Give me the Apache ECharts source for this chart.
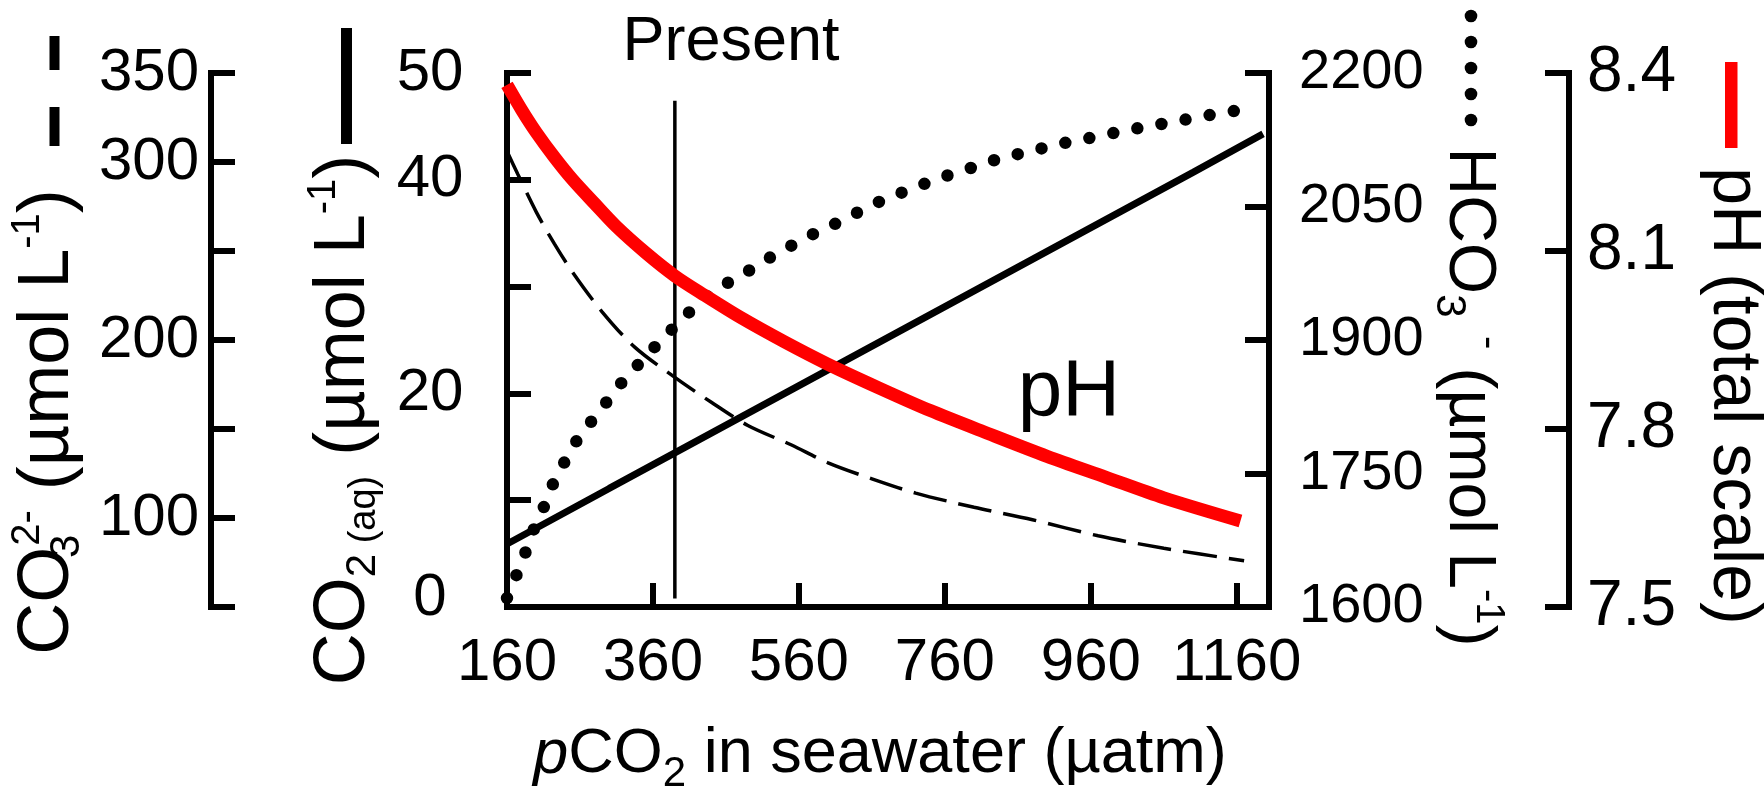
<!DOCTYPE html>
<html>
<head>
<meta charset="utf-8">
<script src="https://cdn.jsdelivr.net/npm/echarts@6/dist/echarts.min.js"></script>
<style>
  html, body { margin: 0; padding: 0; background: #fff; }
  #chart { width: 1764px; height: 789px; }
</style>
</head>
<body>
<div id="chart"></div>
<script>
// ---- Axis ticks and labels ----
const pco2Ticks = [160, 360, 560, 760, 960, 1160];
const co2aqTicks = [0, 10, 20, 30, 40, 50];
const co2aqLabels = [0, 20, 40, 50];
const co3Ticks = [50, 100, 150, 200, 250, 300, 350];
const co3Labels = [100, 200, 300, 350];
const hco3Ticks = [1600, 1750, 1900, 2050, 2200];
const phTicks = [7.5, 7.8, 8.1, 8.4];

// ---- Present-day pCO2 marker (x value, CO2(aq) span) ----
const presentPco2 = 390;
const presentSpan = [0.8, 47.4];

// ---- Carbonate system vs. pCO2 in seawater (µatm) ----
// Dissolved CO2 (µmol L-1)
const co2aq = [[160, 5.9], [300, 11.1], [500, 18.5], [700, 25.9], [900, 33.3], [1100, 40.7], [1196, 44.3]];
// Carbonate ion (µmol L-1)
const co3 = [[160, 306], [175, 293], [200, 272], [225, 254], [250, 238], [290, 216], [335, 196], [390, 179],
  [440, 165], [490, 152], [550, 141], [600, 131], [660, 122], [720, 114], [800, 106], [880, 99],
  [970, 90], [1060, 83], [1170, 76]];
// Bicarbonate (µmol L-1)
const hco3 = [[160, 1610], [174, 1638], [187, 1665], [199, 1692], [213, 1717], [225, 1742], [241, 1766],
  [258, 1790], [279, 1812], [300, 1834], [321, 1856], [344, 1876], [368, 1897], [391, 1916], [416, 1936],
  [442, 1953], [470, 1968], [500, 1982], [529, 1997], [559, 2010], [589, 2023], [619, 2034], [649, 2047],
  [680, 2059], [712, 2069], [743, 2079], [775, 2088], [806, 2096], [839, 2105], [872, 2111], [906, 2118],
  [939, 2124], [972, 2129], [1005, 2135], [1039, 2140], [1072, 2145], [1105, 2150], [1138, 2155], [1172, 2159]];
// pH (total scale)
const ph = [[160, 8.380], [180, 8.338], [200, 8.300], [225, 8.258], [250, 8.220], [280, 8.180], [310, 8.141],
  [350, 8.097], [390, 8.058], [430, 8.026], [480, 7.988], [540, 7.947], [600, 7.909], [670, 7.869],
  [740, 7.831], [820, 7.792], [900, 7.754], [980, 7.719], [1060, 7.684], [1165, 7.645]];

const FONT = "'Liberation Sans', Arial, Helvetica, sans-serif";
const BLACK = '#000';
const RED = '#ff0000';

function tickStyle(values) {
  return { show: true, inside: true, length: 24, customValues: values, lineStyle: { color: BLACK, width: 6 } };
}

function yAxisBase(opts) {
  return Object.assign({
    type: 'value',
    splitLine: { show: false },
    axisLine: { show: true, onZero: false, lineStyle: { color: BLACK, width: 6, cap: 'square' } }
  }, opts);
}

function richStyles(main) {
  return {
    sub: { fontSize: 42, fontFamily: FONT, fill: BLACK, lineHeight: 30, verticalAlign: 'bottom' },
    sub0: { fontSize: 42, fontFamily: FONT, fill: BLACK, lineHeight: 30, verticalAlign: 'bottom', width: 1 },
    ssub: { fontSize: 38, fontFamily: FONT, fill: BLACK, lineHeight: 26, verticalAlign: 'bottom' },
    sup: { fontSize: 40, fontFamily: FONT, fill: BLACK, lineHeight: 50, verticalAlign: 'top' },
    it: { fontSize: main, fontFamily: FONT, fill: BLACK, fontStyle: 'italic' }
  };
}

function title(text, x, y, rot, size) {
  return {
    type: 'text', x: x, y: y, rotation: rot,
    style: {
      text: text, fill: BLACK, fontFamily: FONT, fontSize: size, lineHeight: 80,
      align: 'center', verticalAlign: 'middle', rich: richStyles(size)
    }
  };
}

const chart = echarts.init(document.getElementById('chart'), null, { renderer: 'canvas' });

chart.setOption({
  backgroundColor: '#fff',
  animation: false,
  grid: { left: 507, top: 73, width: 759, height: 534, containLabel: false },
  xAxis: {
    type: 'value', min: 160, max: 1200, position: 'bottom',
    splitLine: { show: false },
    axisLine: { onZero: false, lineStyle: { color: BLACK, width: 6 } },
    axisTick: tickStyle(pco2Ticks),
    axisLabel: { customValues: pco2Ticks, margin: 26, color: BLACK, fontFamily: FONT, fontSize: 60,
      formatter: v => String(v) }
  },
  yAxis: [
    yAxisBase({
      position: 'left', offset: 0, min: 0, max: 50,
      axisTick: tickStyle(co2aqTicks),
      axisLabel: { customValues: co2aqLabels, margin: 77, align: 'center', color: BLACK, fontFamily: FONT, fontSize: 60,
        formatter: v => (v === 0 ? '{z|0}' : String(v)),
        rich: { z: { fontSize: 60, fontFamily: FONT, color: BLACK, padding: [0, 0, 18, 0] } } }
    }),
    yAxisBase({
      position: 'left', offset: 296, min: 50, max: 350,
      axisTick: tickStyle(co3Ticks),
      axisLabel: { customValues: co3Labels, margin: 12, color: BLACK, fontFamily: FONT, fontSize: 60,
        formatter: v => String(v) }
    }),
    yAxisBase({
      position: 'right', offset: 3, min: 1600, max: 2200,
      axisTick: tickStyle(hco3Ticks),
      axisLabel: { customValues: hco3Ticks, margin: 30, color: BLACK, fontFamily: FONT, fontSize: 56,
        formatter: v => String(v) }
    }),
    yAxisBase({
      position: 'right', offset: 303, min: 7.5, max: 8.4,
      axisTick: tickStyle(phTicks),
      axisLabel: { customValues: phTicks, margin: 18, color: BLACK, fontFamily: FONT, fontSize: 64,
        formatter: v => v.toFixed(1) }
    })
  ],
  series: [
    {
      name: 'Present', type: 'line', yAxisIndex: 0, symbol: 'none', silent: true,
      data: [[presentPco2, presentSpan[0]], [presentPco2, presentSpan[1]]],
      lineStyle: { color: BLACK, width: 3.5 }
    },
    {
      name: 'CO2(aq)', type: 'line', yAxisIndex: 0, symbol: 'none', data: co2aq,
      lineStyle: { color: BLACK, width: 7, cap: 'butt' }
    },
    {
      name: 'CO3', type: 'line', yAxisIndex: 1, symbol: 'none', data: co3, smooth: 0.3,
      lineStyle: { color: BLACK, width: 3.5, type: [34, 12] }
    },
    {
      name: 'HCO3', type: 'line', yAxisIndex: 2, symbol: 'none', data: hco3, smooth: 0.3,
      lineStyle: { color: BLACK, width: 12.5, type: [0, 24.5], cap: 'round' }
    },
    {
      name: 'pH', type: 'line', yAxisIndex: 3, symbol: 'none', data: ph, smooth: 0.3,
      lineStyle: { color: RED, width: 13, cap: 'butt' }
    }
  ],
  graphic: [
    // axis titles
    title('CO{sub0|3}{sup|2-} (µmol L{sup|-1})', 48, 422, Math.PI / 2, 72),
    title('CO{sub|2}{ssub| (aq)} (µmol L{sup|-1})', 344, 420, Math.PI / 2, 72),
    title('HCO{sub|3} {sup|-} (µmol L{sup|-1})', 1468, 397, -Math.PI / 2, 66),
    title('pH (total scale)', 1733, 396, -Math.PI / 2, 68),
    title('{it|p}CO{sub|2} in seawater (µatm)', 880, 755, 0, 63),
    // annotations
    { type: 'text', x: 731, y: 43, style: { text: 'Present', fill: BLACK, fontFamily: FONT, fontSize: 63, align: 'center', verticalAlign: 'middle' } },
    { type: 'text', x: 1069, y: 393, style: { text: 'pH', fill: BLACK, fontFamily: FONT, fontSize: 80, align: 'center', verticalAlign: 'middle' } },
    // line-style keys beside the titles
    { type: 'rect', shape: { x: 49.5, y: 36, width: 10, height: 34 }, style: { fill: BLACK } },
    { type: 'rect', shape: { x: 49.5, y: 107, width: 10, height: 39 }, style: { fill: BLACK } },
    { type: 'rect', shape: { x: 341, y: 28, width: 11, height: 116 }, style: { fill: BLACK } },
    { type: 'circle', shape: { cx: 1471, cy: 16, r: 6.3 }, style: { fill: BLACK } },
    { type: 'circle', shape: { cx: 1471, cy: 42, r: 6.3 }, style: { fill: BLACK } },
    { type: 'circle', shape: { cx: 1471, cy: 68, r: 6.3 }, style: { fill: BLACK } },
    { type: 'circle', shape: { cx: 1471, cy: 94, r: 6.3 }, style: { fill: BLACK } },
    { type: 'circle', shape: { cx: 1471, cy: 120, r: 6.3 }, style: { fill: BLACK } },
    { type: 'rect', shape: { x: 1725, y: 62, width: 12.5, height: 86 }, style: { fill: RED } }
  ]
});
</script>
</body>
</html>
